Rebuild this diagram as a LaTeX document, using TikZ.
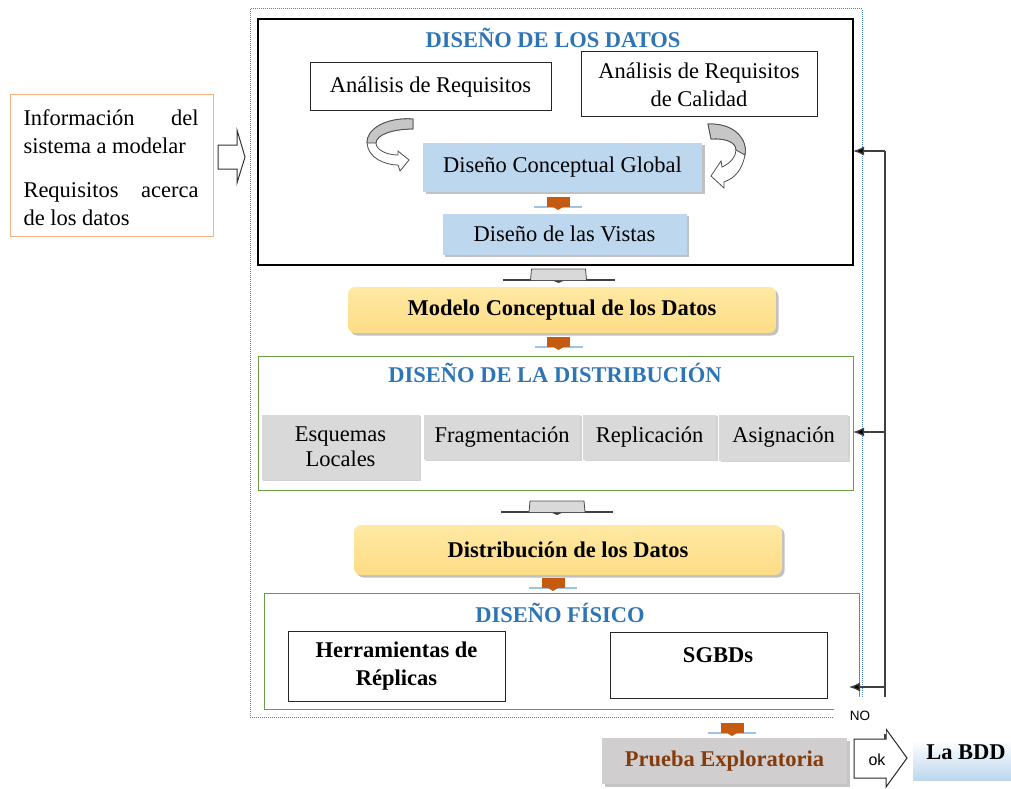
\documentclass[tikz,border=0pt]{standalone}
\usepackage{fontspec}
\setmainfont{Liberation Serif}
\newfontfamily\sansf{Liberation Sans}
\usetikzlibrary{shadows,arrows.meta}
\definecolor{tblue}{HTML}{2E75B6}
\definecolor{lblue}{HTML}{BDD7EE}
\definecolor{ylwtop}{HTML}{FFE9A3}
\definecolor{ylwbot}{HTML}{FDDC86}
\definecolor{gbox}{HTML}{D9D9D9}
\definecolor{pgray}{HTML}{D0CECE}
\definecolor{brn}{HTML}{843C0C}
\definecolor{grn}{HTML}{6A9C47}
\definecolor{orin}{HTML}{F4B183}
\definecolor{orc}{HTML}{C55A11}
\definecolor{lineb}{HTML}{9DC3E6}
\definecolor{dotb}{HTML}{4A7FD4}
\newcommand\mfs{\fontsize{22.5}{28}\selectfont}
\begin{document}
\begin{tikzpicture}[x=1pt,y=-1pt,
  every node/.style={inner sep=0pt, outer sep=0pt, font=\mfs, align=center},
  sz/.style 2 args={minimum width=#1, minimum height=#2},
  wbox/.style={draw=black!85, line width=1pt, fill=white},
  shd/.style={drop shadow={shadow xshift=2.5pt, shadow yshift=-2.5pt, fill=black!30, opacity=0.8}},
  bluebox/.style={fill=lblue, shd},
  ylwbox/.style={top color=ylwtop, bottom color=ylwbot, rounded corners=7pt, shd, font=\mfs\bfseries},
  graybox/.style={fill=gbox, drop shadow={shadow xshift=1.5pt, shadow yshift=-1.5pt, fill=black!35}},
  grnbox/.style={draw=grn, line width=1pt},
  ttl/.style={font=\mfs\bfseries, text=tblue},
  fbline/.style={draw=black!75, line width=1.3pt},
  fbarrow/.style={fbline, -{Latex[length=11pt,width=9pt,fill=black]}},
  curv/.style={draw=black!70, line width=0.8pt},
  graycon/.pic={
    \draw[black!75, line width=1.3pt] (-56,11) -- (56,11);
    \fill[black!75] (-7,11) -- (7,11) -- (0,14) -- cycle;
    \draw[black!70, fill=gbox, line width=0.8pt] (-28,11) -- (-27,0) -- (27,0) -- (28,11);
  },
  orangecon/.pic={
    \draw[lineb, line width=1.4pt] (-24,10) -- (24,10);
    \fill[orc] (-11.5,0) rectangle (11.5,10);
    \fill[orc] (-5,10) -- (5,10) -- (0,13) -- cycle;
  }
]
\useasboundingbox (0,0) rectangle (1011,789);

% outer dotted frame
\node[draw=dotb, dash pattern=on 1pt off 1pt, line width=1pt, sz={612}{708}] (outer) at (556,363) {};

% ---------- DISEÑO DE LOS DATOS ----------
\node[draw=black, line width=1.2pt, sz={595}{246}] (datos) at (555.5,142) {};
\node[ttl] (tdatos) at (553,38) {DISEÑO DE LOS DATOS};
\node[wbox, sz={241}{48}] (ar) at (430.5,87) {Análisis de Requisitos};
\node[wbox, sz={236}{65}] (arc) at (699,84.5) {Análisis de Requisitos\\de Calidad};
\node[bluebox, sz={279}{49}] (dcg) at (562.5,167) {Diseño Conceptual Global};
\node[bluebox, sz={244}{41}] (dv) at (564.5,234) {Diseño de las Vistas};
\pic at (558,197) {orangecon};

% curved arrows
\filldraw[curv, fill=white] (413,119) .. controls (385,117) and (366,130) .. (367,143)
  .. controls (368,158) and (385,165) .. (398,165) -- (400,171) -- (409,160) -- (398,151) -- (398,155)
  .. controls (387,155) and (376,150) .. (376,143) .. controls (376,135) and (392,129) .. (413,129) -- cycle;
\filldraw[curv, fill=gray!45] (413,119) .. controls (385,117) and (366,130) .. (367,143) -- (376,143)
  .. controls (376,135) and (392,129) .. (413,129) -- cycle;
\filldraw[curv, fill=white] (708,124) .. controls (735,123) and (748,140) .. (745,155)
  .. controls (742,170) and (735,178) .. (724,182) -- (724,188) -- (711,176) -- (721,161) -- (722,167)
  .. controls (731,163) and (736,156) .. (736,150) .. controls (736,142) and (725,138) .. (711,139) -- cycle;
\filldraw[curv, fill=gray!45] (708,124) .. controls (735,123) and (748,140) .. (745,155) -- (736,150)
  .. controls (736,142) and (725,138) .. (711,139) -- cycle;

% ---------- Modelo conceptual ----------
\pic at (558.5,269) {graycon};
\node[ylwbox, sz={428}{46}] (mcd) at (562,310) {Modelo Conceptual de los Datos};
\pic at (558.5,337) {orangecon};

% ---------- DISEÑO DE LA DISTRIBUCIÓN ----------
\node[grnbox, sz={595}{134}] (dist) at (555.5,423) {};
\node[ttl] (tdist) at (555,373) {DISEÑO DE LA DISTRIBUCIÓN};
\node[graybox, sz={158}{65}] (esq) at (340.5,447) {Esquemas\\[-3pt]Locales};
\node[graybox, sz={156}{45}] (frag) at (502,437) {Fragmentación};
\node[graybox, sz={133}{45}] (rep) at (649.5,437) {Replicación};
\node[graybox, sz={129}{46}] (asig) at (783.5,437.5) {Asignación};

\pic at (557,501) {graycon};
\node[ylwbox, sz={428}{50}] (dd) at (568,550) {Distribución de los Datos};
\pic at (553,578) {orangecon};

% ---------- DISEÑO FÍSICO ----------
\node[grnbox, sz={595}{116}] (fis) at (561.5,651) {};
\node[ttl] (tfis) at (560,613) {DISEÑO FÍSICO};
\node[wbox, sz={217}{70}, font=\mfs\bfseries] (herr) at (396.5,666) {Herramientas de\\Réplicas};
\node[wbox, sz={217}{66}] (sgbd) at (718.5,665) {};
\node[font=\mfs\bfseries] (sgbdt) at (718,655) {SGBDs};

% ---------- Prueba ----------
\pic at (732,723) {orangecon};
\node[fill=pgray, sz={245}{46}, drop shadow={shadow xshift=3pt, shadow yshift=-3pt, fill=black!45}, font=\mfs\bfseries, text=brn] (prueba) at (724.5,761) {Prueba Exploratoria};

% ok arrow and La BDD
\filldraw[draw=black!85, fill=white, line width=1pt] (854,739) -- (886,739) -- (886,729) -- (907,758) -- (886,787) -- (886,778) -- (854,778) -- cycle;
\node[font=\sansf\fontsize{16}{18}\selectfont] (ok) at (877,760) {ok};
\node[top color=white, bottom color=lblue, sz={100}{40}] (bdd) at (963,760) {};
\node[font=\mfs\bfseries] (bddt) at (966,752) {La BDD};

% ---------- input ----------
\node[draw=orin, line width=1pt, fill=white, sz={203}{141}] (inp) at (111.5,165.5) {};
\node[align=left] (inpt) at (111,168) {\makebox[175pt][s]{Información del}\\sistema a modelar\\[16pt]\makebox[175pt][s]{Requisitos acerca}\\de los datos};
\filldraw[draw=black!80, fill=white, line width=1pt] (218,145) -- (237,145) -- (237,130) -- (245,157) -- (237,183) -- (237,169) -- (218,169) -- cycle;

% ---------- feedback ----------
\coordinate (fb0) at (885,739);
\coordinate (fb1) at (885,151);
\coordinate (fb2) at (885,432);
\coordinate (fb3) at (885,687);
\coordinate (fb3e) at (849,687);
\draw[fbline] (fb0) -- (fb1);
\draw[fbarrow] (fb1) -- (fb1 -| datos.east);
\draw[fbarrow] (fb2) -- (fb2 -| dist.east);
\draw[fbarrow] (fb3) -- (fb3e);
\node[fill=white, sz={52}{37}, font=\sansf\fontsize{13.5}{15}\selectfont] (no) at (860,715.5) {NO};
\end{tikzpicture}
\end{document}
